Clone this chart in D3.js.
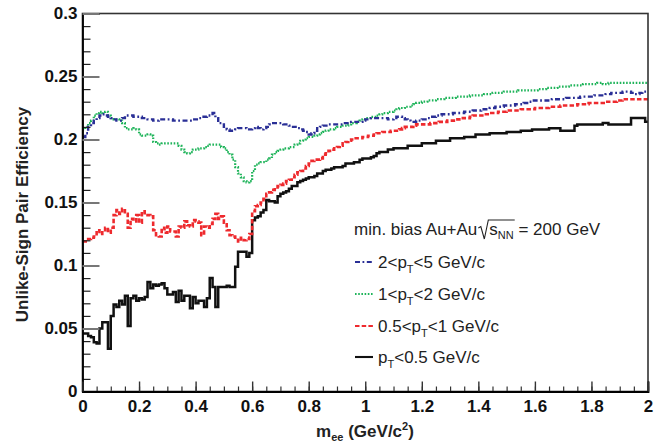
<!DOCTYPE html>
<html>
<head>
<meta charset="utf-8">
<script src="https://cdn.jsdelivr.net/npm/d3@7"></script>
<style>
  body { margin: 0; background: #fff; }
  text { font-family: "Liberation Sans", Arial, Helvetica, sans-serif; }
</style>
</head>
<body>
<svg id="chart" width="667" height="442"></svg>
<script>
// Pair efficiency vs. invariant mass, 200 bins of 0.01 GeV/c^2 from 0 to 2.
const massRange = [0, 2];
const binWidth = 0.01;

// 2 < pT < 5 GeV/c
const effPt2to5 = [
  .202,.205,.210,.213,.215,.217,.219,.220,.219,.218, .217,.216,.215,.215,.217,.219,.219,.219,.218,.218,
  .218,.217,.217,.216,.216,.215,.215,.216,.216,.216, .216,.216,.215,.215,.215,.215,.215,.215,.215,.216,
  .216,.217,.218,.218,.219,.219,.221,.217,.213,.213, .210,.208,.207,.207,.208,.209,.209,.209,.208,.208,
  .209,.210,.209,.208,.209,.210,.212,.213,.213,.213, .213,.212,.212,.211,.210,.210,.209,.208,.207,.206,
  .204,.205,.207,.209,.210,.211,.211,.212,.212,.212, .212,.212,.213,.213,.213,.214,.214,.214,.214,.215,
  .216,.216,.217,.217,.217,.217,.217,.217,.216,.216, .217,.218,.218,.217,.216,.215,.214,.214,.215,.215,
  .216,.216,.217,.218,.218,.219,.219,.220,.220,.220, .220,.221,.221,.221,.221,.222,.222,.222,.223,.223,
  .223,.224,.224,.224,.225,.225,.226,.226,.226,.227, .227,.227,.227,.228,.228,.228,.229,.229,.230,.231,
  .231,.231,.231,.231,.231,.231,.232,.232,.232,.232, .232,.233,.233,.233,.233,.233,.234,.234,.234,.234,
  .234,.235,.235,.235,.235,.236,.236,.237,.237,.237, .237,.238,.238,.238,.237,.236,.236,.237,.238,.238
];

// 1 < pT < 2 GeV/c
const effPt1to2 = [
  .208,.210,.213,.215,.219,.221,.222,.221,.222,.219, .217,.216,.216,.215,.213,.209,.208,.208,.209,.208,
  .204,.203,.203,.204,.203,.198,.197,.196,.197,.197, .197,.197,.197,.197,.195,.192,.190,.189,.190,.192,
  .192,.193,.193,.194,.195,.196,.196,.196,.196,.194, .193,.190,.188,.184,.178,.173,.170,.167,.166,.167,
  .175,.180,.181,.182,.182,.184,.185,.188,.190,.191, .192,.193,.193,.194,.194,.196,.197,.199,.200,.201,
  .202,.202,.203,.204,.205,.206,.207,.208,.208,.209, .210,.210,.211,.211,.212,.213,.213,.214,.215,.216,
  .217,.217,.218,.218,.219,.220,.221,.221,.222,.222, .223,.224,.225,.225,.226,.226,.227,.228,.229,.229,
  .230,.230,.231,.231,.231,.232,.232,.232,.233,.233, .233,.233,.234,.234,.234,.234,.234,.235,.235,.235,
  .235,.235,.236,.236,.236,.237,.237,.237,.237,.238, .238,.238,.238,.238,.239,.239,.239,.239,.239,.239,
  .239,.240,.240,.240,.241,.241,.241,.241,.242,.242, .242,.242,.243,.243,.243,.243,.243,.244,.244,.244,
  .244,.244,.245,.245,.244,.244,.245,.245,.245,.245, .245,.245,.245,.245,.245,.245,.245,.245,.245,.245
];

// 0.5 < pT < 1 GeV/c
const effPt05to1 = [
  .119,.119,.121,.122,.123,.128,.125,.128,.130,.126, .130,.140,.144,.141,.145,.141,.130,.137,.135,.140,
  .134,.143,.140,.140,.139,.128,.124,.123,.130,.126, .131,.127,.127,.123,.131,.130,.135,.132,.131,.136,
  .135,.134,.124,.131,.130,.133,.137,.141,.137,.139, .134,.128,.124,.123,.122,.119,.122,.120,.121,.125,
  .143,.147,.148,.150,.153,.157,.158,.160,.162,.163, .164,.165,.167,.168,.170,.172,.174,.175,.177,.179,
  .181,.183,.184,.184,.185,.188,.189,.191,.192,.193, .194,.195,.197,.198,.199,.200,.201,.201,.201,.202,
  .202,.203,.203,.204,.205,.205,.206,.206,.206,.207, .207,.207,.208,.209,.210,.210,.210,.211,.212,.212,
  .212,.212,.212,.213,.213,.213,.214,.214,.214,.215, .215,.215,.216,.216,.217,.217,.217,.218,.219,.219,
  .219,.219,.220,.220,.221,.221,.221,.222,.222,.222, .223,.223,.223,.223,.223,.224,.224,.224,.224,.224,
  .225,.225,.225,.225,.225,.226,.226,.226,.226,.227, .227,.227,.227,.227,.227,.228,.228,.228,.228,.229,
  .229,.229,.229,.229,.229,.230,.230,.230,.230,.231, .231,.232,.232,.232,.232,.232,.232,.232,.232,.232
];

// pT < 0.5 GeV/c
const effPtBelow05 = [
  .046,.046,.044,.043,.039,.038,.050,.055,.055,.034, .060,.069,.067,.072,.069,.076,.052,.074,.076,.072,
  .074,.073,.075,.087,.082,.085,.084,.085,.086,.082, .077,.077,.079,.071,.080,.072,.076,.076,.066,.075,
  .070,.072,.072,.067,.074,.090,.083,.067,.083,.083, .083,.084,.083,.083,.099,.111,.111,.111,.107,.110,
  .136,.138,.139,.142,.144,.152,.151,.151,.150,.155, .157,.158,.159,.161,.163,.163,.166,.167,.168,.169,
  .170,.170,.171,.173,.173,.175,.176,.176,.177,.178, .178,.178,.179,.181,.181,.181,.182,.182,.184,.185,
  .185,.185,.186,.187,.189,.190,.190,.190,.192,.192, .193,.193,.193,.193,.193,.195,.195,.195,.195,.195,
  .197,.197,.197,.197,.197,.199,.199,.199,.199,.199, .201,.201,.201,.201,.201,.202,.202,.202,.202,.204,
  .204,.204,.204,.204,.205,.205,.205,.205,.205,.205, .206,.206,.206,.206,.206,.207,.207,.207,.207,.208,
  .208,.208,.208,.208,.208,.209,.209,.209,.209,.207, .207,.207,.207,.207,.211,.212,.212,.212,.212,.212,
  .212,.212,.212,.212,.213,.213,.212,.212,.212,.212, .212,.212,.212,.212,.217,.217,.217,.217,.217,.214
];

const yTickValues = [0, 0.05, 0.1, 0.15, 0.2, 0.25, 0.3];
const yTickLabels = ["0", "0.05", "0.1", "0.15", "0.2", "0.25", "0.3"];
const xTickValues = [0, 0.2, 0.4, 0.6, 0.8, 1, 1.2, 1.4, 1.6, 1.8, 2];
const xTickLabels = ["0", "0.2", "0.4", "0.6", "0.8", "1", "1.2", "1.4", "1.6", "1.8", "2"];

const legendPrefix = ["2<p", "1<p", "0.5<p", "p"];
const legendSuffix = ["<5 GeV/c", "<2 GeV/c", "<1 GeV/c", "<0.5 GeV/c"];

const svg = d3.select("#chart");
const plotLeft = 82.5, plotRight = 648, plotTop = 13.5, plotBottom = 391.5;

const x = d3.scaleLinear().domain(massRange).range([plotLeft, plotRight]);
const y = d3.scaleLinear().domain([0, 0.3]).range([plotBottom, plotTop]);

// series styles
const styles = [
  { data: effPt2to5,    color: "#2a2f96", dash: "5,2.5,1.8,2.5", width: 2.4 },
  { data: effPt1to2,    color: "#1fb45a", dash: "1.6,1.6",       width: 2.2 },
  { data: effPt05to1,   color: "#ee2a2e", dash: "4.5,2.2",       width: 2.6 },
  { data: effPtBelow05, color: "#111111", dash: null,            width: 2.5 }
];

svg.append("defs").append("clipPath").attr("id", "plotClip")
  .append("rect").attr("x", plotLeft).attr("y", plotTop)
  .attr("width", plotRight - plotLeft).attr("height", plotBottom - plotTop);

// histogram outlines as step lines through the bin edges
const stepLine = d3.line()
  .x(d => x(d[0])).y(d => y(d[1]))
  .curve(d3.curveStepAfter);

const curves = svg.append("g").attr("clip-path", "url(#plotClip)");
styles.slice().reverse().forEach(s => {
  const pts = s.data.map((v, i) => [massRange[0] + i * binWidth, v]);
  pts.push([massRange[1], s.data[s.data.length - 1]]);
  curves.append("path")
    .attr("d", stepLine(pts))
    .attr("fill", "none")
    .attr("stroke", s.color)
    .attr("stroke-width", s.width)
    .attr("stroke-dasharray", s.dash)
    .attr("stroke-linejoin", "miter");
});

// frame
svg.append("rect")
  .attr("x", plotLeft).attr("y", plotTop)
  .attr("width", plotRight - plotLeft).attr("height", plotBottom - plotTop)
  .attr("fill", "none").attr("stroke", "#333").attr("stroke-width", 1.6);

// y axis: minor ticks every 0.01, major every 0.05 (ticks point inward)
const yMinor = svg.append("g").attr("transform", `translate(${plotLeft},0)`)
  .call(d3.axisLeft(y).tickValues(d3.range(0, 31).map(i => i / 100)).tickSize(-8).tickFormat(""));
yMinor.select(".domain").remove();
yMinor.selectAll(".tick line").attr("stroke", "#222").attr("stroke-width", 1.2);

const yMajor = svg.append("g").attr("transform", `translate(${plotLeft},0)`)
  .call(d3.axisLeft(y).tickValues(yTickValues).tickSize(-17).tickPadding(5)
    .tickFormat((d, i) => yTickLabels[i]));
yMajor.select(".domain").attr("stroke", "#000").attr("stroke-width", 1.8);
yMajor.selectAll(".tick line").attr("stroke", "#777").attr("stroke-width", 2);
yMajor.selectAll(".tick text")
  .attr("font-size", 17).attr("font-weight", "bold").attr("fill", "#111");

// x axis: minor ticks every 0.05, major every 0.2
const xMinor = svg.append("g").attr("transform", `translate(0,${plotBottom})`)
  .call(d3.axisBottom(x).tickValues(d3.range(0, 41).map(i => i / 20)).tickSize(-5).tickFormat(""));
xMinor.select(".domain").remove();
xMinor.selectAll(".tick line").attr("stroke", "#333").attr("stroke-width", 1.2);

const xMajor = svg.append("g").attr("transform", `translate(0,${plotBottom})`)
  .call(d3.axisBottom(x).tickValues(xTickValues).tickSize(-10).tickPadding(8)
    .tickFormat((d, i) => xTickLabels[i]));
xMajor.select(".domain").attr("stroke", "#000").attr("stroke-width", 1.8);
xMajor.selectAll(".tick line").attr("stroke", "#333").attr("stroke-width", 1.4);
xMajor.selectAll(".tick text")
  .attr("font-size", 17).attr("font-weight", "bold").attr("fill", "#111");

// axis titles
svg.append("text")
  .attr("transform", `translate(28,${(plotTop + plotBottom) / 2 + 12}) rotate(-90)`)
  .attr("text-anchor", "middle")
  .attr("font-size", 17).attr("font-weight", "bold").attr("fill", "#222")
  .text("Unlike-Sign Pair Efficiency");

const xTitle = svg.append("text")
  .attr("x", 365).attr("y", 437)
  .attr("text-anchor", "middle")
  .attr("font-size", 17).attr("font-weight", "bold").attr("fill", "#222");
xTitle.append("tspan").text("m");
xTitle.append("tspan").attr("font-size", 11).attr("dy", 4).text("ee");
xTitle.append("tspan").attr("dy", -4).text(" (GeV/c");
xTitle.append("tspan").attr("font-size", 11).attr("dy", -7).text("2");
xTitle.append("tspan").attr("dy", 7).text(")");

// legend
const legend = svg.append("g");
const lx = 354, textX = 378;
const headerY = 235;

const head1 = legend.append("text")
  .attr("x", lx).attr("y", headerY)
  .attr("font-size", 17).attr("fill", "#222")
  .text("min. bias Au+Au");
const w1 = head1.node().getComputedTextLength();
const rx = lx + w1 + 1;
const head2 = legend.append("text")
  .attr("x", rx + 11).attr("y", headerY)
  .attr("font-size", 17).attr("fill", "#222");
head2.append("tspan").text("s");
head2.append("tspan").attr("font-size", 11).attr("dy", 4).text("NN");
const sqrtEnd = rx + 11 + head2.node().getComputedTextLength() + 1;
head2.append("tspan").attr("dy", -4).text(" = 200 GeV");
// radical sign over s_NN
legend.append("path")
  .attr("d", `M${rx},${headerY - 7} L${rx + 2.5},${headerY - 8.5} L${rx + 6},${headerY + 4} L${rx + 10},${headerY - 15} L${sqrtEnd},${headerY - 15}`)
  .attr("fill", "none").attr("stroke", "#222").attr("stroke-width", 1.1);

const rowY = [262, 294, 326, 357];
styles.forEach((s, i) => {
  legend.append("line")
    .attr("x1", 355).attr("x2", 373)
    .attr("y1", rowY[i]).attr("y2", rowY[i])
    .attr("stroke", s.color).attr("stroke-width", s.width - 0.4)
    .attr("stroke-dasharray", s.dash);
  const t = legend.append("text")
    .attr("x", textX).attr("y", rowY[i] + 6)
    .attr("font-size", 17).attr("fill", "#222");
  t.append("tspan").text(legendPrefix[i]);
  t.append("tspan").attr("font-size", 11).attr("dy", 5).text("T");
  t.append("tspan").attr("dy", -5).text(legendSuffix[i]);
});
</script>
</body>
</html>
